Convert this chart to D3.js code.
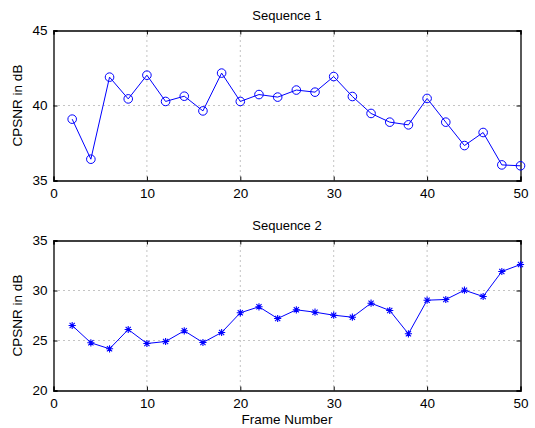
<!DOCTYPE html>
<html>
<head>
<meta charset="utf-8">
<script src="https://cdn.jsdelivr.net/npm/d3@7"></script>
<style>
  html, body { margin: 0; padding: 0; background: #fff; }
  svg { display: block; }
  text { font-family: "Liberation Sans", Arial, sans-serif; font-size: 13px; fill: #000; }
</style>
</head>
<body>
<svg id="chart" width="535" height="428"></svg>
<script>
// Frame numbers shared by both sequences
const frames = [2, 4, 6, 8, 10, 12, 14, 16, 18, 20, 22, 24, 26, 28, 30, 32, 34, 36, 38, 40, 42, 44, 46, 48, 50];

// CPSNR (dB) per frame
const seq1 = [39.09, 36.42, 41.89, 40.44, 42.02, 40.27, 40.62, 39.64, 42.16, 40.27, 40.73, 40.56, 41.03,
              40.89, 41.93, 40.6, 39.47, 38.89, 38.71, 40.47, 38.89, 37.33, 38.2, 36.04, 35.98];
const seq2 = [26.5, 24.77, 24.17, 26.1, 24.7, 24.9, 25.97, 24.8, 25.8, 27.77, 28.37, 27.2, 28.07,
              27.83, 27.53, 27.33, 28.73, 28.0, 25.67, 29.03, 29.1, 30.03, 29.4, 31.9, 32.6];

const xTicks = [0, 10, 20, 30, 40, 50];
const yTicks1 = [35, 40, 45];
const yTicks2 = [20, 25, 30, 35];

const panels = [
  { title: "Sequence 1", values: seq1, domain: [35, 45], ticks: yTicks1, top: 30.5, bottom: 180.5, marker: "circle" },
  { title: "Sequence 2", values: seq2, domain: [20, 35], ticks: yTicks2, top: 240.5, bottom: 390.5, marker: "star" }
];

const svg = d3.select("#chart");
const left = 53.5, right = 520.5;
const blue = "#0000ff";

const x = d3.scaleLinear().domain([0, 50]).range([left, right]);

panels.forEach(p => {
  const y = d3.scaleLinear().domain(p.domain).range([p.bottom, p.top]);
  const g = svg.append("g");

  // dotted grid at interior ticks
  g.selectAll(".gx").data(xTicks.filter(t => t > 0 && t < 50)).join("line")
    .attr("x1", d => x(d)).attr("x2", d => x(d))
    .attr("y1", p.top).attr("y2", p.bottom)
    .attr("stroke", "#888").attr("stroke-width", 1).attr("stroke-dasharray", "1,4");
  g.selectAll(".gy").data(p.ticks.filter(t => t > p.domain[0] && t < p.domain[1])).join("line")
    .attr("x1", left).attr("x2", right)
    .attr("y1", d => y(d)).attr("y2", d => y(d))
    .attr("stroke", "#888").attr("stroke-width", 1).attr("stroke-dasharray", "1,4");

  // axes with inward ticks
  const axB = d3.axisBottom(x).tickValues(xTicks).tickSize(-4).tickPadding(8).tickFormat(d3.format("d"));
  const axT = d3.axisTop(x).tickValues(xTicks).tickSize(-4).tickFormat("");
  const axL = d3.axisLeft(y).tickValues(p.ticks).tickSize(-4).tickPadding(6).tickFormat(d3.format("d"));
  const axR = d3.axisRight(y).tickValues(p.ticks).tickSize(-4).tickFormat("");

  [[axB, `translate(0,${p.bottom})`], [axT, `translate(0,${p.top})`],
   [axL, `translate(${left},0)`], [axR, `translate(${right},0)`]].forEach(([ax, tr]) => {
    const a = g.append("g").attr("transform", tr).call(ax);
    a.select(".domain").attr("stroke", "#000").attr("stroke-width", 1.3);
    a.selectAll(".tick line").attr("stroke", "#000").attr("stroke-width", 1);
    a.selectAll(".tick text").style("font-size", "13.5px").attr("fill", "#000")
      .style("font-family", "'Liberation Sans', Arial, sans-serif");
  });

  // title
  g.append("text").attr("x", (left + right) / 2).attr("y", p.top - 11)
    .attr("text-anchor", "middle").text(p.title);

  // y label
  g.append("text")
    .attr("transform", `translate(22,${(p.top + p.bottom) / 2}) rotate(-90)`)
    .attr("text-anchor", "middle").style("font-size", "13.5px").text("CPSNR in dB");

  // series line
  const pts = frames.map((f, i) => [f, p.values[i]]);
  g.append("path").datum(pts)
    .attr("fill", "none").attr("stroke", blue).attr("stroke-width", 1)
    .attr("d", d3.line().x(d => x(d[0])).y(d => y(d[1])));

  // markers
  if (p.marker === "circle") {
    g.selectAll(".m").data(pts).join("circle")
      .attr("cx", d => x(d[0])).attr("cy", d => y(d[1])).attr("r", 4.3)
      .attr("fill", "none").attr("stroke", blue).attr("stroke-width", 1);
  } else {
    const s = 3.6;
    const star = d3.path();
    star.moveTo(-s, 0); star.lineTo(s, 0);
    star.moveTo(0, -s); star.lineTo(0, s);
    star.moveTo(-s * 0.72, -s * 0.72); star.lineTo(s * 0.72, s * 0.72);
    star.moveTo(-s * 0.72, s * 0.72); star.lineTo(s * 0.72, -s * 0.72);
    g.selectAll(".m").data(pts).join("path")
      .attr("transform", d => `translate(${x(d[0])},${y(d[1])})`)
      .attr("d", star.toString())
      .attr("fill", "none").attr("stroke", blue).attr("stroke-width", 1.1);
  }
});

// x axis label
svg.append("text").attr("x", (left + right) / 2).attr("y", 424)
  .attr("text-anchor", "middle").style("font-size", "13.5px").text("Frame Number");
</script>
</body>
</html>
